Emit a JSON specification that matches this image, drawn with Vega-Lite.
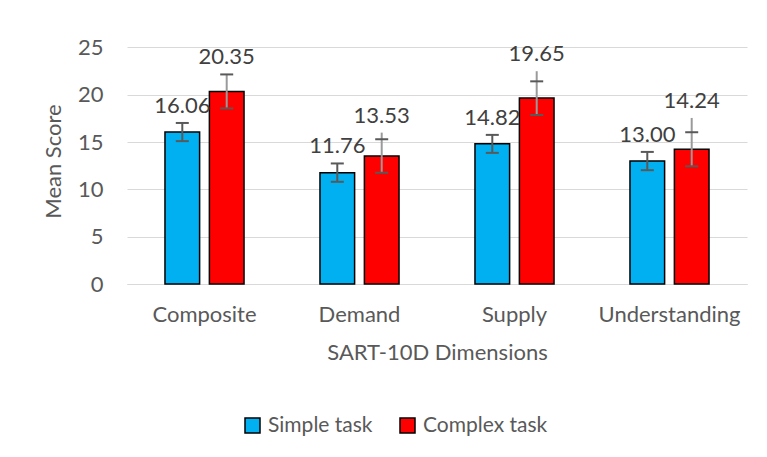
{
  "$schema": "https://vega.github.io/schema/vega-lite/v6.json",
  "width": 620,
  "height": 246,
  "autosize": {"type": "none"},
  "padding": {"left": 127, "top": 38, "right": 20, "bottom": 173},
  "background": "white",
  "config": {
    "view": {"stroke": null},
    "font": "Lato",
    "axis": {"labelColor": "#595959", "titleColor": "#595959", "labelFontSize": 22, "titleFontSize": 22, "titleFontWeight": "normal", "labelFont": "Lato", "titleFont": "Lato"},
    "legend": {"labelColor": "#595959", "labelFontSize": 21, "labelFont": "Lato"}
  },
  "data": {
    "values": [
      {"dimension": "Composite", "task": "Simple task", "mean": 16.06, "lo": 15.10, "hi": 17.02, "top": 17.02},
      {"dimension": "Composite", "task": "Complex task", "mean": 20.35, "lo": 18.56, "hi": 22.15, "top": 22.15},
      {"dimension": "Demand", "task": "Simple task", "mean": 11.76, "lo": 10.80, "hi": 12.74, "top": 12.74},
      {"dimension": "Demand", "task": "Complex task", "mean": 13.53, "lo": 11.76, "hi": 15.30, "top": 16.00},
      {"dimension": "Supply", "task": "Simple task", "mean": 14.82, "lo": 13.86, "hi": 15.76, "top": 15.76},
      {"dimension": "Supply", "task": "Complex task", "mean": 19.65, "lo": 17.86, "hi": 21.42, "top": 22.49},
      {"dimension": "Understanding", "task": "Simple task", "mean": 13.00, "lo": 12.03, "hi": 13.96, "top": 13.96},
      {"dimension": "Understanding", "task": "Complex task", "mean": 14.24, "lo": 12.44, "hi": 16.04, "top": 17.55}
    ]
  },
  "encoding": {
    "x": {
      "field": "dimension", "type": "nominal",
      "sort": ["Composite", "Demand", "Supply", "Understanding"],
      "scale": {"paddingInner": 0.49, "paddingOuter": 0.245},
      "axis": {"title": "SART-10D Dimensions", "labelAngle": 0, "ticks": false, "domainColor": "#d9d9d9", "domainWidth": 1, "labelPadding": 20, "titlePadding": 17}
    },
    "xOffset": {
      "field": "task", "type": "nominal",
      "sort": ["Simple task", "Complex task"],
      "scale": {"paddingInner": 0.22, "paddingOuter": 0}
    }
  },
  "layer": [
    {
      "mark": {"type": "bar", "stroke": "black", "strokeWidth": 1.5},
      "encoding": {
        "y": {
          "field": "mean", "type": "quantitative",
          "scale": {"domain": [0, 25]},
          "axis": {"title": "Mean Score", "values": [0, 5, 10, 15, 20, 25], "domain": false, "ticks": false, "gridColor": "#d9d9d9", "gridWidth": 1, "labelPadding": 24, "titlePadding": 12}
        },
        "color": {
          "field": "task", "type": "nominal",
          "sort": ["Simple task", "Complex task"],
          "scale": {"domain": ["Simple task", "Complex task"], "range": ["#00B0F0", "#FF0000"]},
          "legend": {"title": null, "orient": "none", "direction": "horizontal", "legendX": 115, "legendY": 377, "symbolType": "square", "symbolSize": 225, "symbolStrokeColor": "black", "symbolStrokeWidth": 1.5, "symbolOpacity": 1, "labelOffset": 5, "columnPadding": 24}
        }
      }
    },
    {
      "mark": {"type": "rule", "strokeWidth": 2},
      "encoding": {
        "y": {"field": "lo", "type": "quantitative"},
        "y2": {"field": "top"},
        "stroke": {"condition": {"test": "datum.task === 'Simple task'", "value": "#595959"}, "value": "#9a9a9a"}
      }
    },
    {
      "mark": {"type": "tick", "orient": "horizontal", "size": 13, "thickness": 2, "color": "#595959", "opacity": 1},
      "encoding": {"y": {"field": "lo", "type": "quantitative"}}
    },
    {
      "mark": {"type": "tick", "orient": "horizontal", "size": 13, "thickness": 2, "color": "#595959", "opacity": 1},
      "encoding": {"y": {"field": "hi", "type": "quantitative"}}
    },
    {
      "mark": {"type": "text", "fontSize": 22, "font": "Lato", "color": "#404040", "baseline": "middle", "dy": -17},
      "encoding": {
        "y": {"field": "top", "type": "quantitative"},
        "text": {"field": "mean", "type": "quantitative", "format": ".2f"}
      }
    }
  ]
}
